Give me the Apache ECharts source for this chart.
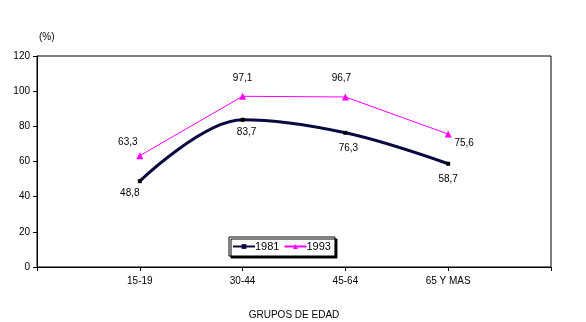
<!DOCTYPE html>
<html>
<head>
<meta charset="utf-8">
<script src="https://cdn.jsdelivr.net/npm/echarts@6/dist/echarts.min.js"></script>
<style>
  html, body { margin: 0; padding: 0; background: #fff; }
  #chart { width: 586px; height: 322px; }
</style>
</head>
<body>
<div id="chart"></div>
<script>
// Age groups; blank slots pad the axis on both sides
const categories = ['', '15-19', '30-44', '45-64', '65 Y MAS', ''];
const values1981 = [null, 48.8, 83.7, 76.3, 58.7, null];
const values1993 = [null, 63.3, 97.1, 96.7, 75.6, null];
const yTicks = [0, 20, 40, 60, 80, 100, 120];

const FONT = 'Liberation Sans, Arial, sans-serif';

// label nudges per point [dx, dy]
const offs1981 = [null, [-10, 12], [4, 12], [3, 15], [0, 15], null];
const offs1993 = [null, [-12, -13], [0, -18], [-4, -19], [16, 9], null];

function fmt(v) { return String(v.toFixed(1)).replace('.', ','); }

function buildData(vals, offs) {
  return vals.map((v, i) => v == null ? null : {
    value: v,
    label: { show: true, position: 'inside', offset: offs[i], formatter: fmt(v) }
  });
}

const chart = echarts.init(document.getElementById('chart'), null, { renderer: 'canvas' });

chart.setOption({
  animation: false,
  backgroundColor: '#fff',
  textStyle: { fontFamily: FONT },
  grid: {
    left: 37, right: 35, top: 56, bottom: 55,
    outerBoundsMode: 'none',
    containLabel: false,
    show: true, borderColor: '#000', borderWidth: 1, backgroundColor: 'transparent'
  },
  legend: {
    left: 229, top: 237,
    padding: [4, 4, 4, 3],
    itemGap: 4,
    itemWidth: 22, itemHeight: 6,
    backgroundColor: '#fff',
    borderColor: '#000', borderWidth: 1, borderRadius: 0,
    shadowColor: '#000', shadowBlur: 0, shadowOffsetX: 2, shadowOffsetY: 2,
    textStyle: { color: '#000', fontSize: 11, fontFamily: FONT, padding: [0, 0, 0, -5] },
    data: [
      { name: '1981', itemStyle: { color: '#0a0a40' } },
      { name: '1993' }
    ]
  },
  xAxis: {
    type: 'category',
    data: categories,
    boundaryGap: false,
    name: 'GRUPOS DE EDAD',
    nameLocation: 'middle',
    nameGap: 43,
    nameTextStyle: { color: '#000', fontSize: 10, fontFamily: FONT },
    axisLine: { lineStyle: { color: '#000', width: 1 } },
    axisTick: { show: true, length: 4, inside: false, alignWithLabel: true, lineStyle: { color: '#000' } },
    axisLabel: { color: '#000', fontSize: 10, fontFamily: FONT, margin: 9, interval: 0 },
    splitLine: { show: false }
  },
  yAxis: {
    type: 'value',
    min: yTicks[0], max: yTicks[yTicks.length - 1], interval: yTicks[1] - yTicks[0],
    name: '(%)',
    nameLocation: 'end',
    nameGap: 14,
    nameTextStyle: { color: '#000', fontSize: 10, fontFamily: FONT, align: 'left', padding: [0, 0, 0, 2] },
    axisLine: { show: true, lineStyle: { color: '#000', width: 1 } },
    axisTick: { show: true, length: 4, lineStyle: { color: '#000' } },
    axisLabel: { color: '#000', fontSize: 10, fontFamily: FONT, margin: 7 },
    splitLine: { show: false }
  },
  series: [
    {
      name: '1981',
      type: 'line',
      data: buildData(values1981, offs1981),
      smooth: 0.35,
      connectNulls: false,
      symbol: 'rect',
      symbolSize: 4,
      showAllSymbol: true,
      lineStyle: { color: '#0a0a40', width: 3 },
      itemStyle: { color: '#000' },
      label: { color: '#000', fontSize: 10, fontFamily: FONT }
    },
    {
      name: '1993',
      type: 'line',
      data: buildData(values1993, offs1993),
      symbol: 'triangle',
      symbolSize: 7,
      showAllSymbol: true,
      lineStyle: { color: '#ff00ff', width: 1 },
      itemStyle: { color: '#ff00ff' },
      label: { color: '#000', fontSize: 10, fontFamily: FONT }
    }
  ]
});
</script>
</body>
</html>
